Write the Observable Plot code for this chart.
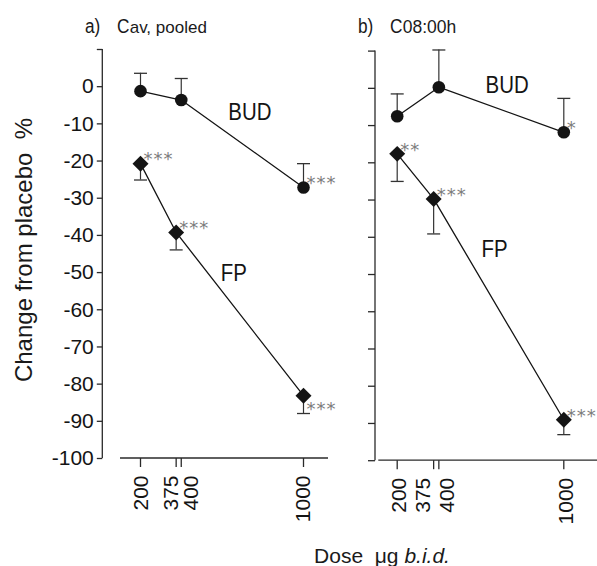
<!DOCTYPE html>
<html>
<head>
<meta charset="utf-8">
<script src="https://cdn.jsdelivr.net/npm/d3@7"></script>
<script src="https://cdn.jsdelivr.net/npm/@observablehq/plot@0.6"></script>
<style>
  html, body { margin: 0; padding: 0; background: #fff; }
  #chart { position: relative; width: 597px; height: 566px; overflow: hidden;
           font-family: "Liberation Sans", Arial, Helvetica, sans-serif; color: #1a1a1a; }
  .lbl { position: absolute; white-space: pre; }
  .sq { display: inline-block; transform-origin: 0 0; }
</style>
</head>
<body>
<div id="chart"></div>
<script>
// ---------------- data ----------------
const doseTicks = [200, 375, 400, 1000];
const yTicks = [-100, -90, -80, -70, -60, -50, -40, -30, -20, -10, 0, 10];
const yDomain = [-100, 10];

const budDoses = [200, 400, 1000];
const fpDoses = [200, 375, 1000];

// a) Cav, pooled
const budA = [-1.2, -3.6, -27.1];
const budAErr = [3.6, 2.2, -20.7];
const budASig = ["", "", "***"];
const fpA = [-20.7, -39.2, -83.1];
const fpAErr = [-25.1, -43.9, -87.9];
const fpASig = ["***", "***", "***"];

// b) C08:00h
const budB = [-7.5, 0.3, -11.8];
const budBErr = [-1.5, 10.3, -2.7];
const budBSig = ["", "", "*"];
const fpB = [-17.6, -29.7, -89.0];
const fpBErr = [-25.0, -39.1, -93.0];
const fpBSig = ["**", "***", "***"];

// series label anchors (data units)
const seriesNames = ["BUD", "FP"];
const labelADose = [737, 658];
const labelAValue = [-7.0, -50.3];
const labelBDose = [728, 668];
const labelBValue = [0.75, -43.2];

// ---------------- helpers ----------------
function rows(series, doses, vals, errs, sigs) {
  return doses.map((d, i) => ({series, dose: d, value: vals[i], err: errs[i], sig: sigs[i]}));
}
function labels(doses, vals) {
  return seriesNames.map((n, i) => ({name: n, dose: doses[i], value: vals[i]}));
}

const INK = "#141414";
const AXIS = "#2a2a2a";
const capSymbol = {
  draw(ctx, size) {
    const w = Math.sqrt(size / Math.PI);
    ctx.moveTo(-w, 0);
    ctx.lineTo(w, 0);
  }
};

function axisFrame(xFrom, xTo) {
  return (index, scales, values, dims) => {
    const g = d3.create("svg:g").attr("fill", "none").attr("stroke", AXIS).attr("stroke-width", 1.3);
    const yb = scales.y(yDomain[0]), yt = scales.y(yDomain[1]);
    g.append("line").attr("x1", dims.marginLeft).attr("x2", dims.marginLeft).attr("y1", yb).attr("y2", yt);
    g.append("line").attr("x1", scales.x(xFrom)).attr("x2", scales.x(xTo)).attr("y1", yb).attr("y2", yb);
    return g.node();
  };
}

function panel(cfg) {
  const bud = rows("BUD", budDoses, cfg.bud, cfg.budErr, cfg.budSig);
  const fp = rows("FP", fpDoses, cfg.fp, cfg.fpErr, cfg.fpSig);
  const all = bud.concat(fp);
  const isBelow = d => cfg.sigBelow.includes(d.series + "-" + d.dose);
  const sigFont = {textAnchor: "start", fill: "#7d7d7d", fontSize: 18, fontFamily: "DejaVu Sans, sans-serif"};

  const marks = [
    axisFrame(cfg.xAxisFrom, cfg.xAxisTo),
    Plot.axisY(yTicks, {
      anchor: "left", tickSize: cfg.yTickSize, tickPadding: 3.5, stroke: AXIS, strokeWidth: 1.3,
      fill: INK, label: null,
      tickFormat: d => (cfg.yLabels && d !== 10) ? String(d) : ""
    }),
    Plot.axisX(doseTicks, {
      anchor: "bottom", tickSize: 9, stroke: AXIS, strokeWidth: 1.3, label: null, tickFormat: () => ""
    }),
    ...doseTicks.map((t, i) => Plot.axisX([t], {
      anchor: "bottom", tickSize: 0, tickPadding: 17, tickRotate: -90, dx: cfg.tickDx[i],
      fill: INK, label: null, tickFormat: d => String(d)
    })),
    Plot.line(bud, {x: "dose", y: "value", stroke: INK, strokeWidth: 1.3}),
    Plot.line(fp, {x: "dose", y: "value", stroke: INK, strokeWidth: 1.3}),
    Plot.ruleX(all, {x: "dose", y1: "value", y2: "err", stroke: "#333", strokeWidth: 1.2}),
    Plot.dot(all, {x: "dose", y: "err", symbol: capSymbol, r: 6.5, stroke: "#333", strokeWidth: 1.3, fill: "none"}),
    Plot.dot(bud, {x: "dose", y: "value", symbol: "circle", r: 6.3, fill: INK, stroke: "none"}),
    Plot.dot(fp, {x: "dose", y: "value", symbol: "diamond2", r: 7.2, fill: INK, stroke: "none"}),
    Plot.text(all.filter(d => d.sig && !isBelow(d)), {x: "dose", y: "value", text: "sig", dx: 3, dy: -4, ...sigFont}),
    Plot.text(all.filter(d => d.sig && isBelow(d)), {x: "dose", y: "value", text: "sig", dx: 3, dy: 14, ...sigFont}),
    Plot.text(cfg.labels, {x: "dose", y: "value", text: "name", fill: INK, fontSize: 24})
  ];

  const svg = Plot.plot({
    width: cfg.width,
    height: 566,
    marginLeft: cfg.marginLeft,
    marginRight: 0,
    marginTop: cfg.marginTop,
    marginBottom: cfg.marginBottom,
    x: {type: "linear", domain: [200, 1000], range: cfg.xRange},
    y: {type: "linear", domain: yDomain},
    style: {
      position: "absolute", left: cfg.left + "px", top: "0px", overflow: "visible",
      background: "transparent", fontFamily: "Liberation Sans, Arial, Helvetica, sans-serif",
      fontSize: "21px", color: INK, maxWidth: "none"
    },
    marks
  });
  return svg;
}

// condensed look for series labels, spaced asterisks
function finish(svg) {
  d3.select(svg).selectAll("text").each(function () {
    const t = this.textContent;
    if (seriesNames.includes(t)) {
      const len = this.getComputedTextLength();
      this.setAttribute("textLength", (len * 0.85).toFixed(1));
      this.setAttribute("lengthAdjust", "spacingAndGlyphs");
    } else if (/^\*+$/.test(t)) {
      this.style.letterSpacing = "1px";
    }
  });
}

const chart = document.getElementById("chart");

const svgA = panel({
  left: 0, width: 345, marginLeft: 102.3, marginTop: 49, marginBottom: 108,
  xRange: [140, 303], xAxisFrom: 101.8, xAxisTo: 1122.7, yTickSize: 5.5, yLabels: true,
  tickDx: [1, -5, 10, 0],
  bud: budA, budErr: budAErr, budSig: budASig, fp: fpA, fpErr: fpAErr, fpSig: fpASig,
  sigBelow: ["FP-1000"],
  labels: labels(labelADose, labelAValue)
});
chart.appendChild(svgA);
finish(svgA);

const svgB = panel({
  left: 345, width: 252, marginLeft: 30, marginTop: 50.6, marginBottom: 105.8,
  xRange: [51.7, 218.3], xAxisFrom: 111.6, xAxisTo: 1250, yTickSize: 7, yLabels: false,
  tickDx: [2, -10, 8, 2],
  bud: budB, budErr: budBErr, budSig: budBSig, fp: fpB, fpErr: fpBErr, fpSig: fpBSig,
  sigBelow: [],
  labels: labels(labelBDose, labelBValue)
});
chart.appendChild(svgB);
finish(svgB);

// ---------------- titles & axis labels (HTML) ----------------
function addLabel(html, css) {
  const d = document.createElement("div");
  d.className = "lbl";
  d.innerHTML = html;
  Object.assign(d.style, css);
  chart.appendChild(d);
  return d;
}
const titleHead = (letter) =>
  '<span class="sq" style="font-size:20px;transform:scaleX(0.86);margin-right:-2.5px">' + letter + ')</span>' +
  '<span class="sq" style="font-size:21px;transform:scaleX(0.82);margin-left:17px;margin-right:-2.8px">C</span>';
addLabel(titleHead("a") + '<span style="font-size:17px">av, pooled</span>',
  {left: "85px", top: "16px", fontSize: "20px", lineHeight: "20px"});
addLabel(titleHead("b") + '<span style="font-size:17.5px">08:00h</span>',
  {left: "358px", top: "16px", fontSize: "20px", lineHeight: "20px"});

// y axis title
addLabel('Change from placebo  %', {
  left: "24px", top: "250px", fontSize: "24px", lineHeight: "24px",
  transform: "translate(-50%, -50%) rotate(-90deg)"
});
// x axis title
addLabel('Dose  \u03bcg <i>b.i.d.</i>', {
  left: "382px", top: "545px", fontSize: "21px", lineHeight: "21px",
  transform: "translateX(-50%)"
});
</script>
</body>
</html>
